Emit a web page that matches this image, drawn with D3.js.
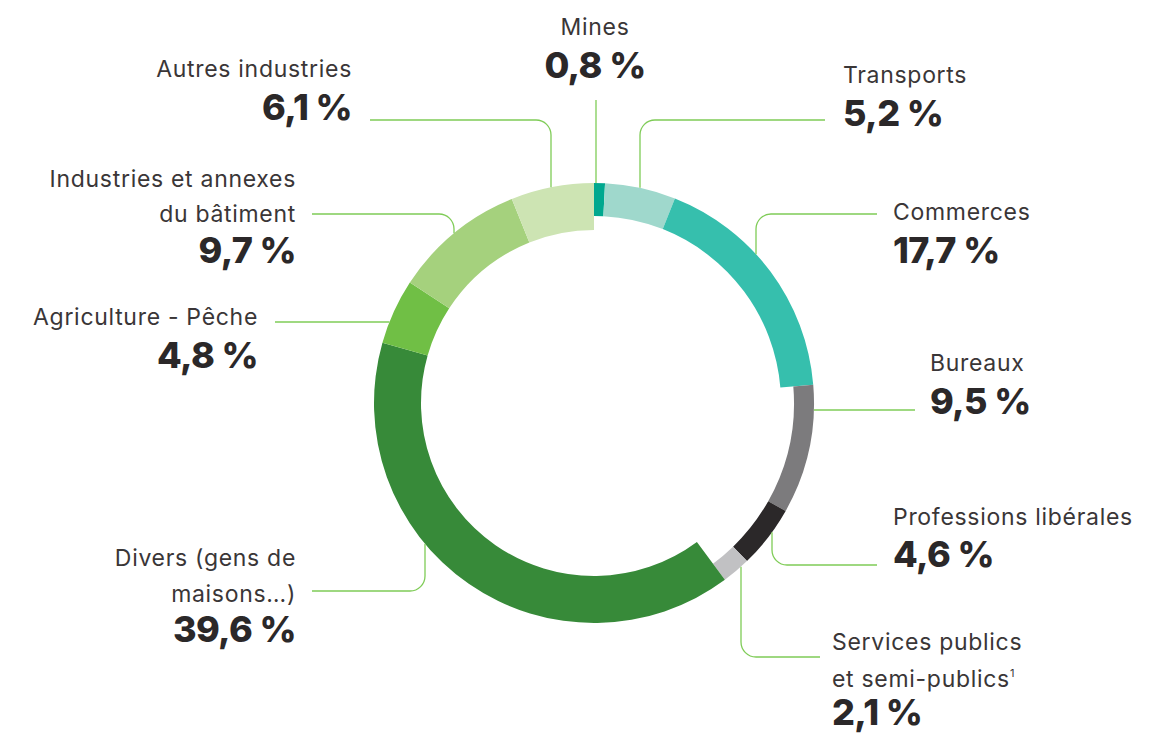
<!DOCTYPE html>
<html><head><meta charset="utf-8">
<script src="https://cdn.jsdelivr.net/npm/d3@7"></script>
<style>
html,body{margin:0;padding:0;background:#fff;}
svg{display:block;}
.lab{font-family:Inter,"Noto Sans",sans-serif;font-weight:400;fill:#3a3637;}
.val{font-family:Inter,"Noto Sans",sans-serif;font-weight:800;fill:#2b2829;}
</style>
</head><body>
<svg id="c" width="1167" height="733"></svg>
<script>
// ---- data ----
const categories = ["Mines","Transports","Commerces","Bureaux","Professions libérales",
  "Services publics et semi-publics","Divers (gens de maisons…)","Agriculture - Pêche",
  "Industries et annexes du bâtiment","Autres industries"];
const values = [0.8, 5.2, 17.7, 9.5, 4.6, 2.1, 39.6, 4.8, 9.7, 6.1];
const labelLines = [["Mines"],["Transports"],["Commerces"],["Bureaux"],["Professions libérales"],
  ["Services publics","et semi-publics"],["Divers (gens de","maisons…)"],["Agriculture - Pêche"],
  ["Industries et annexes","du bâtiment"],["Autres industries"]];
const footnotes = ["","","","","","1","","","",""];

// ---- styles / layout ----
const colors = ["#00a88f","#9fd8cc","#36bfad","#7c7b7d","#2b2829","#c1c1c3","#378a39","#70bf45","#a5d17d","#cde4b3"];
const group = ["teal","teal","teal","grey","grey","grey","green","green","green","green"];
const thick = {teal:33, grey:20, green:47};
const W = 1167, H = 733, cx = 594, cy = 403, R = 220, cornerR = 15;
const lineColor = "#7fcc57";
const layout = [
  {x:595, a:"middle", ys:[35], vy:78, lead:{type:"v", sx:596, sy:100}},
  {x:843, a:"start", ys:[83], vy:126, lead:{type:"e", sx:825, sy:120, vx:640}},
  {x:893, a:"start", ys:[220], vy:263, lead:{type:"e", sx:877, sy:214, vx:756}},
  {x:930, a:"start", ys:[371], vy:414, lead:{type:"h", sx:915, sy:410}},
  {x:893, a:"start", ys:[525], vy:567, lead:{type:"e", sx:877, sy:565, vx:772}},
  {x:832, a:"start", ys:[650,687], vy:725, lead:{type:"e", sx:820, sy:657, vx:741}},
  {x:296, a:"end", ys:[566,602], vy:642, lead:{type:"e", sx:312, sy:591, vx:425}},
  {x:258, a:"end", ys:[325], vy:368, lead:{type:"h", sx:275, sy:322}},
  {x:296, a:"end", ys:[187,222], vy:263, lead:{type:"e", sx:312, sy:214, vx:454}},
  {x:352, a:"end", ys:[77], vy:120, lead:{type:"e", sx:370, sy:120, vx:551}}
];

const svg = d3.select("#c");
const pie = d3.pie().sort(null).value(d => d)(values);
const arc = d3.arc().outerRadius(R).innerRadius(d => R - thick[group[d.index]]);

svg.append("g").attr("transform", `translate(${cx},${cy})`)
  .selectAll("path").data(pie).join("path")
  .attr("d", arc).attr("fill", (d,i) => colors[i]);

function leaderPath(L){
  const p = d3.path();
  if (L.type === "v") {
    p.moveTo(L.sx, L.sy);
    p.lineTo(L.sx, cy - Math.sqrt(R*R - (L.sx-cx)**2));
  } else if (L.type === "h") {
    const dx = Math.sqrt(R*R - (L.sy-cy)**2);
    p.moveTo(L.sx, L.sy);
    p.lineTo(L.sx > cx ? cx + dx : cx - dx, L.sy);
  } else {
    const dy = Math.sqrt(R*R - (L.vx-cx)**2);
    const ey = L.sy < cy ? cy - dy : cy + dy;
    p.moveTo(L.sx, L.sy);
    p.arcTo(L.vx, L.sy, L.vx, ey, cornerR);
    p.lineTo(L.vx, ey);
  }
  return p.toString();
}

svg.append("g").selectAll("path").data(layout).join("path")
  .attr("d", d => leaderPath(d.lead)).attr("fill","none")
  .attr("stroke", lineColor).attr("stroke-width", 1.3);

const fmt = v => d3.format(".1f")(v).replace(".", ",") + " %";

const g = svg.append("g");
categories.forEach((c,i) => {
  const L = layout[i];
  labelLines[i].forEach((ln, j) => {
    const t = g.append("text").attr("class","lab").attr("x", L.x).attr("y", L.ys[j])
      .attr("text-anchor", L.a).attr("font-size", 23).attr("letter-spacing", 0.7).text(ln);
    if (j === labelLines[i].length - 1 && footnotes[i]) {
      t.append("tspan").attr("font-size", 11).attr("letter-spacing", 0).attr("dy", -10).text(footnotes[i]);
    }
  });
  g.append("text").attr("class","val").attr("x", L.x).attr("y", L.vy)
    .attr("text-anchor", L.a).attr("font-size", 36).attr("letter-spacing", -0.6).text(fmt(values[i]));
});
</script>
</body></html>
